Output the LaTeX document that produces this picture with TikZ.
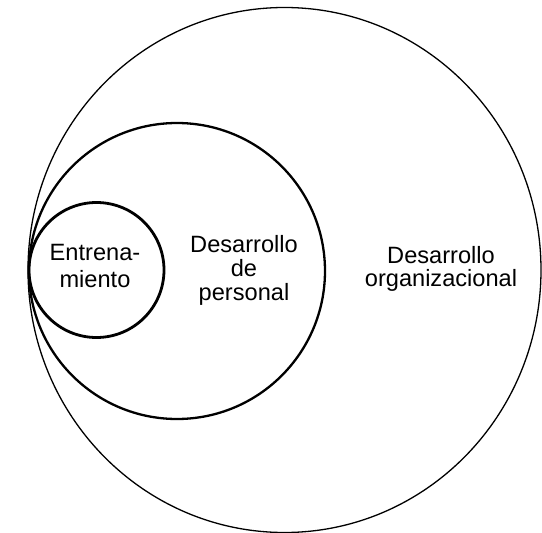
\documentclass[tikz,border=0pt]{standalone}
\usepackage{fontspec}
\setmainfont{Liberation Sans}
\begin{document}
\begin{tikzpicture}[x=1pt,y=-1pt,
  lbl/.style={anchor=base,inner sep=0pt,font=\fontsize{23.6}{25}\selectfont},
  outerc/.style={draw=black,line width=1.3pt},
  midc/.style={draw=black,line width=2.3pt},
  innc/.style={draw=black,line width=2.8pt}]
\useasboundingbox (0,0) rectangle (542,533);
\draw[outerc] (284.5,270) ellipse [x radius=256.5, y radius=262.5];
\draw[midc] (177,271) circle [radius=148];
\draw[innc] (96.5,270) circle [radius=67.5];
\node[lbl] (e1) at (95,260) {Entrena-};
\node[lbl] (e2) at (95,287) {miento};
\node[lbl] (d1) at (244,252) {Desarrollo};
\node[lbl] (d2) at (244,276) {de};
\node[lbl] (d3) at (244,300) {personal};
\node[lbl] (o1) at (441,263) {Desarrollo};
\node[lbl] (o2) at (441,286) {organizacional};
\end{tikzpicture}
\end{document}
